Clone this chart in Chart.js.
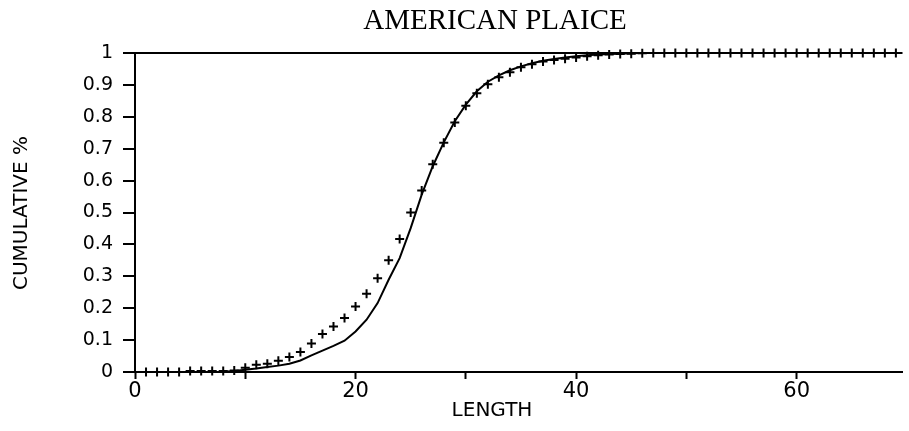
<!DOCTYPE html>
<html>
<head>
<meta charset="utf-8">
<script src="https://cdn.jsdelivr.net/npm/chart.js@4/dist/chart.umd.min.js"></script>
<style>
  html, body { margin: 0; padding: 0; background: #fff; overflow: hidden; }
  canvas { display: block; }
</style>
</head>
<body>
<canvas id="chart" width="909" height="431"></canvas>
<script>
// Cumulative length distribution, American plaice
const chartTitle = 'AMERICAN PLAICE';
const xTitle = 'LENGTH';
const yTitle = 'CUMULATIVE %';

// Observed cumulative proportion at each length (plotted as crosses)
const observedLengths = [1,2,3,4,5,6,7,8,9,10,11,12,13,14,15,16,17,18,19,20,
  21,22,23,24,25,26,27,28,29,30,31,32,33,34,35,36,37,38,39,40,
  41,42,43,44,45,46,47,48,49,50,51,52,53,54,55,56,57,58,59,60,
  61,62,63,64,65,66,67,68,69];
const observedCum = [0,0,0,0,0.003,0.003,0.003,0.003,0.005,0.013,
  0.023,0.026,0.035,0.047,0.063,0.089,0.119,0.143,0.169,0.205,
  0.245,0.294,0.350,0.417,0.500,0.569,0.651,0.719,0.782,0.835,
  0.874,0.902,0.924,0.940,0.955,0.965,0.973,0.978,0.982,0.986,
  0.990,0.993,0.995,0.997,0.998,0.999,1,1,1,1,
  1,1,1,1,1,1,1,1,1,1,
  1,1,1,1,1,1,1,1,1];

// Fitted cumulative curve (solid line)
const fittedLengths = [0,1,2,3,4,5,6,7,8,9,10,11,12,13,14,15,16,17,18,19,20,
  21,22,23,24,25,26,27,28,29,30,31,32,33,34,35,36,37,38,39,40,
  41,42,43,44,45,46,47,48,49,50,51,52,53,54,55,56,57,58,59,60,
  61,62,63,64,65,66,67,68,69];
const fittedCum = [0,0,0,0,0,0,0,0,0.001,0.003,0.007,
  0.011,0.016,0.020,0.026,0.036,0.052,0.067,0.082,0.098,0.127,
  0.164,0.216,0.289,0.357,0.451,0.556,0.645,0.720,0.786,0.838,
  0.880,0.910,0.930,0.946,0.958,0.968,0.976,0.981,0.986,0.990,
  0.993,0.995,0.997,0.998,0.999,1,1,1,1,1,
  1,1,1,1,1,1,1,1,1,1,
  1,1,1,1,1,1,1,1,1];

const xTickStep = 10;
const xLabelStep = 20;
const yTickStep = 0.1;

const pts = (xs, ys) => xs.map((x, i) => ({ x: x, y: ys[i] }));

// Title and axis captions drawn as canvas text
const captions = {
  id: 'captions',
  afterDraw(chart) {
    const c = chart.ctx;
    c.save();
    c.fillStyle = '#000';
    c.textAlign = 'center';
    c.textBaseline = 'middle';
    c.font = '29px "Liberation Serif", serif';
    c.fillText(chartTitle, 495, 21);
    c.font = '20px "DejaVu Sans", sans-serif';
    c.fillText(xTitle, 492, 411);
    c.translate(22, 213);
    c.rotate(-Math.PI / 2);
    c.fillText(yTitle, 0, 0);
    c.restore();
  }
};

new Chart(document.getElementById('chart'), {
  type: 'scatter',
  data: {
    datasets: [
      {
        data: pts(fittedLengths, fittedCum),
        showLine: true,
        borderColor: '#000',
        borderWidth: 2,
        pointRadius: 0,
        tension: 0,
        clip: false
      },
      {
        data: pts(observedLengths, observedCum),
        showLine: false,
        pointStyle: 'cross',
        pointRadius: 4.5,
        borderWidth: 2,
        borderColor: '#000',
        backgroundColor: '#000',
        clip: false
      }
    ]
  },
  options: {
    responsive: false,
    animation: false,
    devicePixelRatio: 1,
    layout: { padding: { top: 53, right: 1, left: 0, bottom: 0 } },
    plugins: { legend: { display: false }, tooltip: { enabled: false }, title: { display: false } },
    scales: {
      x: {
        type: 'linear',
        min: 0,
        max: 69.6,
        afterFit(scale) { scale.height = 59; },
        afterBuildTicks(scale) {
          scale.ticks = scale.ticks.filter(t => Math.abs(t.value % xTickStep) < 1e-9);
        },
        ticks: {
          stepSize: xTickStep,
          autoSkip: false,
          maxRotation: 0,
          color: '#000',
          padding: 0,
          font: { family: '"DejaVu Sans", sans-serif', size: 21 },
          callback: v => (v % xLabelStep === 0 ? String(v) : '')
        },
        grid: {
          drawOnChartArea: false,
          drawTicks: true,
          tickLength: 7,
          tickColor: '#000',
          tickWidth: 2
        },
        border: { display: true, color: '#000', width: 2 }
      },
      y: {
        min: 0,
        max: 1,
        afterFit(scale) { scale.width = 135; },
        ticks: {
          stepSize: yTickStep,
          color: '#000',
          padding: 10,
          font: { family: '"DejaVu Sans", sans-serif', size: 19 },
          callback: v => String(Number(v.toFixed(1)))
        },
        grid: {
          drawOnChartArea: true,
          color: ctx => (ctx.tick && ctx.tick.value === 1 ? '#000' : 'rgba(0,0,0,0)'),
          lineWidth: 2,
          tickLength: 12,
          tickColor: '#000',
          tickWidth: 2
        },
        border: { display: true, color: '#000', width: 2 }
      }
    }
  },
  plugins: [captions]
});
</script>
</body>
</html>
